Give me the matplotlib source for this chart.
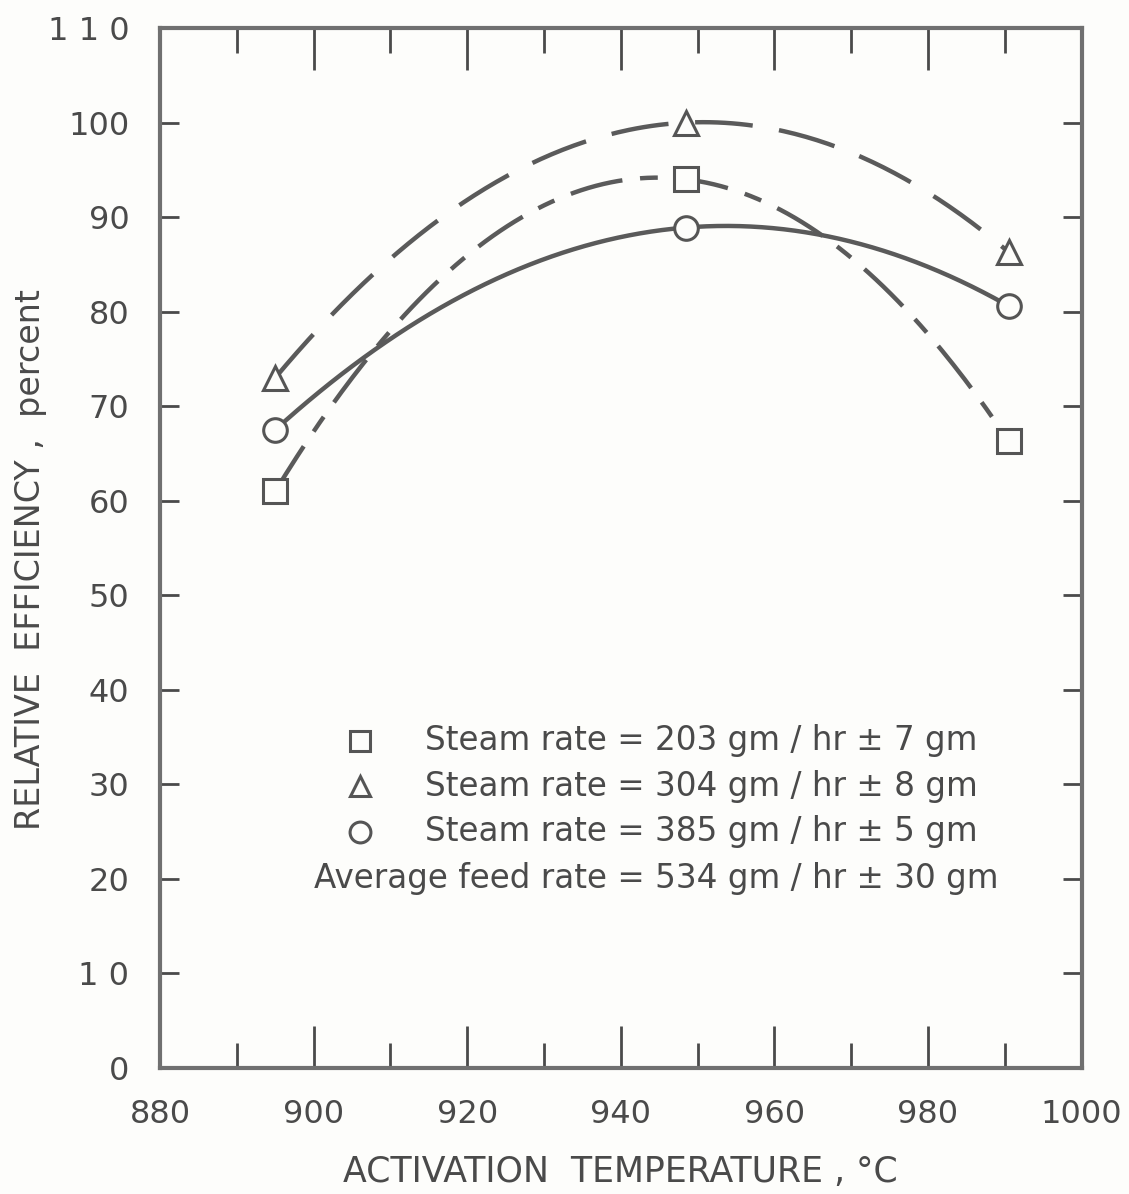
import numpy as np
import matplotlib.pyplot as plt

temp = [895, 948.5, 990.5]
eff_203 = [61, 94, 66.3]
eff_304 = [73, 100, 86.3]
eff_385 = [67.5, 88.9, 80.6]

legend_rows = ["Steam rate = 203 gm / hr \u00b1 7 gm",
               "Steam rate = 304 gm / hr \u00b1 8 gm",
               "Steam rate = 385 gm / hr \u00b1 5 gm"]
feed_note = "Average feed rate = 534 gm / hr \u00b1 30 gm"

ink = "#4a4a4a"
plt.rcParams["font.family"] = ["DejaVu Sans"]

fig = plt.figure(figsize=(11.29, 11.94), dpi=100, facecolor="#fdfdfb")
ax = fig.add_axes([0.1417, 0.1055, 0.8163, 0.871])
ax.set_facecolor("#fdfdfb")

series = [
    (eff_203, "s", (0, (12, 4, 4, 4))),
    (eff_304, "^", (0, (13, 6))),
    (eff_385, "o", "-"),
]
for vals, mk, ls in series:
    # smooth curve through the three points, like the hand-drawn french curve
    c = np.polyfit(temp, vals, 2)
    xs = np.linspace(temp[0], temp[-1], 200)
    ax.plot(xs, np.polyval(c, xs), color="#5a5a5a", lw=3.2, ls=ls, zorder=2)
    ax.plot(temp, vals, mk, ms=17, mfc="#fdfdfb", mec="#555555", mew=2.2,
            ls="none", zorder=3)

ax.set_xlim(880, 1000)
ax.set_ylim(0, 110)
ax.set_xticks(range(880, 1001, 20))
ax.set_xticks(range(890, 1000, 20), minor=True)
ax.set_yticks(range(0, 111, 10))
ax.set_yticklabels(["0", "1 0", "20", "30", "40", "50", "60", "70", "80",
                    "90", "100", "1 1 0"])

ax.tick_params(axis="x", which="major", direction="in", length=30, width=2,
               top=True, color=ink, labelsize=23, labelcolor=ink, pad=22)
ax.tick_params(axis="x", which="minor", direction="in", length=18, width=2,
               top=True, color=ink)
ax.tick_params(axis="y", direction="in", length=14, width=2, right=True,
               color=ink, labelsize=23, labelcolor=ink, pad=22)
for s in ax.spines.values():
    s.set_linewidth(3)
    s.set_color("#707070")

ax.set_xlabel("ACTIVATION  TEMPERATURE , \u00b0C", fontsize=25, color=ink,
              labelpad=18)
fig.text(0.027, 0.531, "RELATIVE  EFFICIENCY ,  percent", fontsize=24,
         color=ink, rotation=90, ha="center", va="center")

# legend drawn as text
ys = [34.6, 29.8, 25.0]
for (vals, mk, ls), y, txt in zip(series, ys, legend_rows):
    ax.plot([906], [y], mk, ms=15, mfc="#fdfdfb", mec="#555555", mew=2.2,
            clip_on=False)
    ax.text(914.5, y, txt, fontsize=23.5, color=ink, va="center", ha="left")
ax.text(944.6, 20.0, feed_note, fontsize=23.5, color=ink, va="center",
        ha="center")

fig.savefig("out.png", dpi=100, facecolor=fig.get_facecolor())
